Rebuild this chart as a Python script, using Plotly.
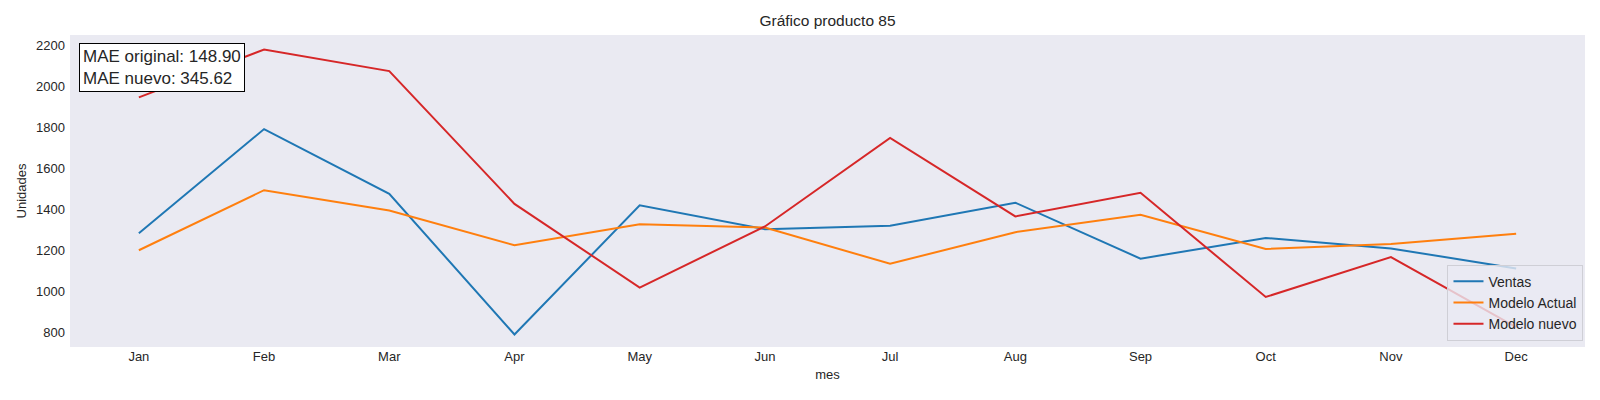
import plotly.graph_objects as go

# datos
meses = ["Jan", "Feb", "Mar", "Apr", "May", "Jun", "Jul", "Aug", "Sep", "Oct", "Nov", "Dec"]
ventas = [1283, 1791, 1475, 789, 1419, 1303, 1319, 1432, 1159, 1260, 1209, 1111]
modelo_actual = [1200, 1493, 1394, 1224, 1327, 1311, 1134, 1288, 1373, 1206, 1231, 1281]
modelo_nuevo = [1946, 2179, 2074, 1426, 1018, 1316, 1748, 1365, 1480, 972, 1167, 825]

mae_original = 148.90
mae_nuevo = 345.62

texto = "#262626"
fuente = "Liberation Sans, Arial, sans-serif"

fig = go.Figure()
fig.add_trace(go.Scatter(x=meses, y=ventas, mode="lines", name="Ventas",
                         line=dict(color="#1f77b4", width=2)))
fig.add_trace(go.Scatter(x=meses, y=modelo_actual, mode="lines", name="Modelo Actual",
                         line=dict(color="#ff7f0e", width=2)))
fig.add_trace(go.Scatter(x=meses, y=modelo_nuevo, mode="lines", name="Modelo nuevo",
                         line=dict(color="#d62728", width=2)))

fig.add_annotation(
    xref="paper", yref="paper", x=0.006, y=0.973,
    xanchor="left", yanchor="top", align="left", showarrow=False,
    text=f"MAE original: {mae_original:.2f}<br>MAE nuevo: {mae_nuevo:.2f}",
    font=dict(size=17, color=texto, family=fuente),
    bgcolor="white", bordercolor="black", borderwidth=1, borderpad=3,
)

# la pagina tiene 8px de margen, asi que la figura es algo mas chica
fig.update_layout(
    width=1584, height=384,
    margin=dict(l=62, r=7, t=27, b=45),
    paper_bgcolor="white", plot_bgcolor="#EAEAF2",
    font=dict(family=fuente, size=13, color=texto),
    title=dict(text="Gráfico producto 85", xref="paper", x=0.5, xanchor="center",
               y=0.967, yanchor="middle", font=dict(size=15.5, color=texto)),
    showlegend=True,
    legend=dict(x=0.999, y=0.02, xanchor="right", yanchor="bottom",
                bgcolor="rgba(234,234,242,0.8)", bordercolor="#cfcfd6", borderwidth=1,
                font=dict(size=14, color=texto), tracegroupgap=0, itemwidth=30),
)
fig.update_xaxes(title=dict(text="mes", font=dict(size=13), standoff=6),
                 range=[-0.55, 11.55], showgrid=False, zeroline=False,
                 showline=False, ticks="")
fig.update_yaxes(title=dict(text="Unidades", font=dict(size=13), standoff=6),
                 range=[728, 2250], tickvals=[800, 1000, 1200, 1400, 1600, 1800, 2000, 2200],
                 showgrid=False, zeroline=False, showline=False, ticks="",
                 ticklabelstandoff=4)

fig.write_html("out.html")
